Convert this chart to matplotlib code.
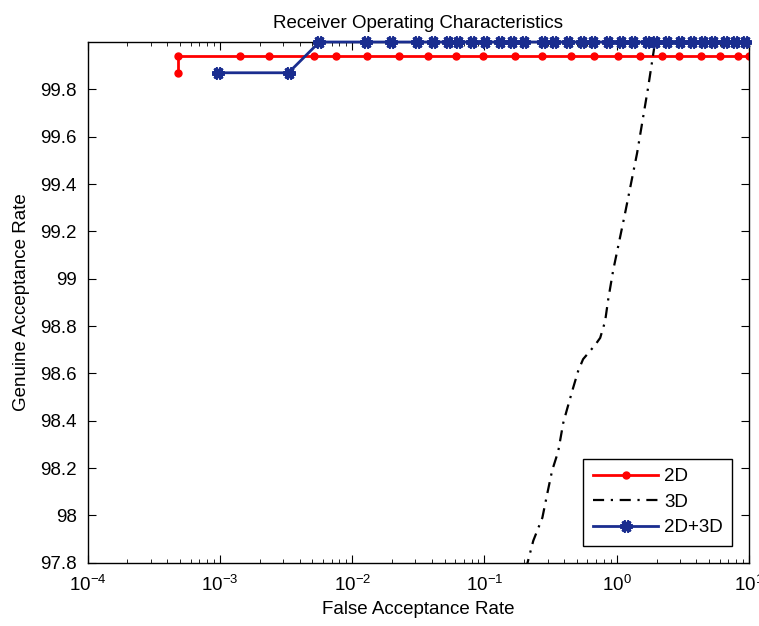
import numpy as np
import matplotlib
matplotlib.use('Agg')
import matplotlib.pyplot as plt
from matplotlib.ticker import LogLocator, FixedLocator

plt.rcParams['font.family'] = ['Liberation Sans', 'DejaVu Sans']
plt.rcParams['mathtext.fontset'] = 'custom'
plt.rcParams['mathtext.rm'] = 'Liberation Sans'
plt.rcParams['mathtext.it'] = 'Liberation Sans'

# 2D
far_2d = [4.8e-4, 4.8e-4, 1.41e-3, 2.33e-3, 5.18e-3, 7.6e-3, 1.30e-2, 2.27e-2,
          3.77e-2, 6.12e-2, 9.8e-2, 0.171, 0.273, 0.453, 0.675, 1.03, 1.50,
          2.20, 2.96, 4.34, 6.04, 8.26, 10.0]
gar_2d = [99.87] + [99.94] * 22

# 3D
far_3d = [0.205, 0.234, 0.274, 0.298, 0.325, 0.361, 0.394, 0.422, 0.469, 0.511,
          0.557, 0.687, 0.750, 0.817, 0.861, 0.94, 1.156, 1.425, 1.73, 1.95, 10.0]
gar_3d = [97.77, 97.893, 97.99, 98.09, 98.19, 98.27, 98.39, 98.45, 98.54, 98.61,
          98.66, 98.72, 98.75, 98.82, 98.91, 99.035, 99.276, 99.53, 99.81, 100.0, 100.0]

# 2D+3D
far_fused = [9.6e-4, 3.3e-3, 5.65e-3, 1.28e-2, 1.98e-2, 3.1e-2, 4.1e-2, 5.33e-2,
             6.34e-2, 8.09e-2, 0.101, 0.132, 0.162, 0.20, 0.278, 0.336, 0.43,
             0.548, 0.664, 0.86, 1.08, 1.33, 1.70, 1.95, 2.40, 3.01, 3.71, 4.49,
             5.35, 6.59, 7.84, 9.33]
gar_fused = [99.87, 99.87] + [100.0] * 30

y_ticks = [97.8, 98.0, 98.2, 98.4, 98.6, 98.8, 99.0, 99.2, 99.4, 99.6, 99.8]
y_ticklabels = ['97.8', '98', '98.2', '98.4', '98.6', '98.8', '99', '99.2',
                '99.4', '99.6', '99.8']
x_ticks = [1e-4, 1e-3, 1e-2, 1e-1, 1e0, 1e1]
x_ticklabels = [r'$10^{-4}$', r'$10^{-3}$', r'$10^{-2}$', r'$10^{-1}$',
                r'$10^{0}$', r'$10^{1}$']

fs = 13.5

fig = plt.figure(figsize=(7.59, 6.26), dpi=100)
ax = fig.add_axes([0.1155, 0.1011, 0.8713, 0.8318])

ax.plot(far_2d, gar_2d, color='#ff0000', lw=2, marker='o', ms=5, label='2D')
ax.plot(far_3d, gar_3d, color='black', lw=1.6, linestyle=(0, (5, 3, 1, 3)), label='3D')
ax.plot(far_fused, gar_fused, color='#1a2d8f', lw=2, marker=(6, 2, 90), ms=9,
        mew=3, label='2D+3D', clip_on=False, zorder=5)

ax.set_xscale('log')
ax.set_xlim(1e-4, 10)
ax.set_ylim(97.8, 100)
ax.yaxis.set_major_locator(FixedLocator(y_ticks))
ax.set_yticklabels(y_ticklabels)
ax.xaxis.set_major_locator(FixedLocator(x_ticks))
ax.set_xticklabels(x_ticklabels)
ax.xaxis.set_minor_locator(LogLocator(base=10, subs=np.arange(2, 10), numticks=20))
ax.xaxis.set_minor_formatter(plt.NullFormatter())

ax.tick_params(which='both', direction='in', top=True, right=True, labelsize=fs,
               colors='black')
ax.tick_params(which='major', length=6)
ax.tick_params(which='minor', length=3)
ax.tick_params(axis='x', pad=9)
ax.tick_params(axis='y', pad=8)
for s in ax.spines.values():
    s.set_linewidth(1)

ax.set_title('Receiver Operating Characteristics', fontsize=fs, pad=10)
ax.set_xlabel('False Acceptance Rate', fontsize=fs, labelpad=4)
ax.set_ylabel('Genuine Acceptance Rate', fontsize=fs, labelpad=7)

leg = ax.legend(loc='lower right', fontsize=fs, fancybox=False, edgecolor='black',
                framealpha=1, handlelength=3.5, handletextpad=0.3,
                labelspacing=0.45, borderpad=0.5, borderaxespad=0.9)
leg.get_frame().set_linewidth(1)

fig.savefig('out.png', dpi=100)
